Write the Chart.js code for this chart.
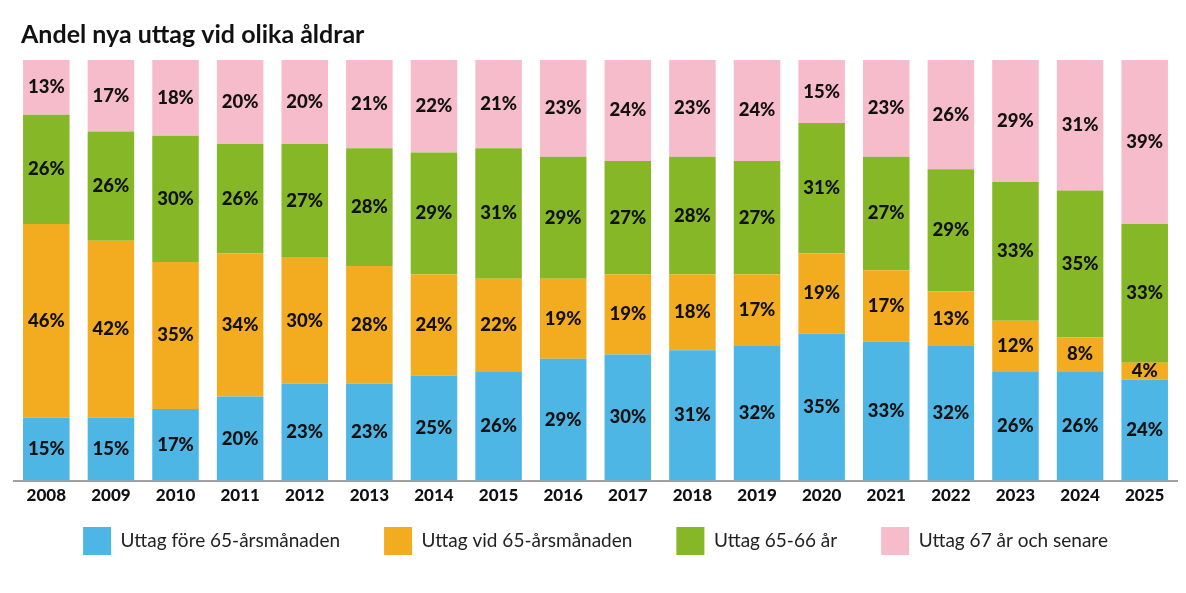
<!DOCTYPE html>
<html>
<head>
<meta charset="utf-8">
<script src="https://cdn.jsdelivr.net/npm/chart.js@4.4.1/dist/chart.umd.min.js"></script>
<style>
  html, body { margin: 0; padding: 0; background: #fff; }
  #wrap { width: 1186px; height: 593px; }
</style>
</head>
<body>
<div id="wrap"><canvas id="chart" width="1186" height="593"></canvas></div>
<script>
const years = ["2008","2009","2010","2011","2012","2013","2014","2015","2016","2017","2018","2019","2020","2021","2022","2023","2024","2025"];
const fore65 = [15, 15, 17, 20, 23, 23, 25, 26, 29, 30, 31, 32, 35, 33, 32, 26, 26, 24];
const vid65 = [46, 42, 35, 34, 30, 28, 24, 22, 19, 19, 18, 17, 19, 17, 13, 12, 8, 4];
const ar6566 = [26, 26, 30, 26, 27, 28, 29, 31, 29, 27, 28, 27, 31, 27, 29, 33, 35, 33];
const ar67 = [13, 17, 18, 20, 20, 21, 22, 21, 23, 24, 23, 24, 15, 23, 26, 29, 31, 39];

const seriesNames = ["Uttag före 65-årsmånaden", "Uttag vid 65-årsmånaden", "Uttag 65-66 år", "Uttag 67 år och senare"];
const colors = ["#4db6e5", "#f3ac1f", "#85b727", "#f6bccb"];

const fontFam = "Lato, 'Open Sans', sans-serif";

// draws the percent inside each segment
const segLabels = {
  id: "segLabels",
  afterDatasetsDraw(chart) {
    const ctx = chart.ctx;
    ctx.save();
    ctx.font = "900 18.5px " + fontFam;
    ctx.fillStyle = "#111";
    ctx.textAlign = "center";
    ctx.textBaseline = "middle";
    chart.data.datasets.forEach((ds, i) => {
      chart.getDatasetMeta(i).data.forEach((bar, j) => {
        ctx.fillText(ds.data[j] + "%", bar.x, (bar.y + bar.base) / 2);
      });
    });
    ctx.restore();
  }
};

// nudge title right and pull the legend up closer to the axis
const nudge = {
  id: "nudge",
  afterLayout(chart) {
    if (chart.titleBlock) {
      chart.titleBlock.left += 7;
      chart.titleBlock.right += 7;
    }
    if (chart.legend) {
      chart.legend.top -= 28;
      chart.legend.bottom -= 28;
    }
  }
};

new Chart(document.getElementById("chart"), {
  type: "bar",
  data: {
    labels: years,
    datasets: [fore65, vid65, ar6566, ar67].map((d, i) => ({
      label: seriesNames[i],
      data: d,
      backgroundColor: colors[i],
      borderWidth: 0,
      barPercentage: 1,
      categoryPercentage: 0.72
    }))
  },
  options: {
    responsive: false,
    animation: false,
    layout: { padding: { left: 14, right: 9, top: 4, bottom: 0 } },
    scales: {
      x: {
        stacked: true,
        grid: { display: false, drawTicks: false },
        border: { display: true, color: "#a0a0a0", width: 2 },
        ticks: { color: "#111", font: { family: fontFam, size: 17, weight: "900" }, padding: 5 }
      },
      y: {
        stacked: true,
        display: false,
        min: 0,
        max: 100
      }
    },
    plugins: {
      title: {
        display: true,
        text: "Andel nya uttag vid olika åldrar",
        align: "start",
        color: "#111",
        font: { family: fontFam, size: 25, weight: "bold" },
        padding: { top: 16, bottom: 10 }
      },
      legend: {
        position: "bottom",
        labels: {
          boxWidth: 28,
          boxHeight: 28,
          padding: 44,
          color: "#222",
          font: { family: fontFam, size: 19 }
        }
      },
      tooltip: { enabled: false }
    }
  },
  plugins: [segLabels, nudge]
});
</script>
</body>
</html>
